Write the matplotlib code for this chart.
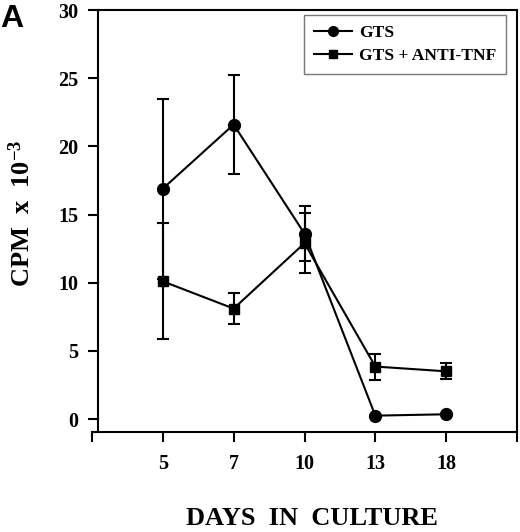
import numpy as np
import matplotlib
matplotlib.use("Agg")
import matplotlib.pyplot as plt
from matplotlib.lines import Line2D

# values
days = ['5', '7', '10', '13', '18']
gts = [16.9, 21.6, 13.6, 0.25, 0.35]
gts_err = [6.6, 3.6, 2.0, 0.0, 0.0]
anti_tnf = [10.1, 8.1, 12.9, 3.85, 3.5]
anti_tnf_err = [4.25, 1.15, 2.2, 0.95, 0.58]

plt.rcParams['font.family'] = ['Liberation Serif', 'DejaVu Serif']
plt.rcParams['font.weight'] = 'bold'
plt.rcParams['mathtext.fontset'] = 'custom'
plt.rcParams['mathtext.rm'] = 'Liberation Serif:bold'
plt.rcParams['mathtext.default'] = 'rm'

fig = plt.figure(figsize=(5.2, 5.32), dpi=100)
ax = fig.add_axes([92 / 520, 1 - 432 / 532, 425 / 520, 422 / 532])

x = np.arange(1, len(days) + 1)

ax.errorbar(x, gts, yerr=gts_err, color='black', marker='o', markersize=8.5,
            linewidth=1.5, elinewidth=1.5, capsize=4.5, capthick=1.5, zorder=3)
ax.errorbar(x, anti_tnf, yerr=anti_tnf_err, color='black', marker='s', markersize=7,
            linewidth=1.5, elinewidth=1.5, capsize=4.5, capthick=1.5, zorder=3)

ax.set_xlim(0, 6)
ax.set_ylim(-0.95, 30)

ax.set_xticks(np.arange(0, 7))
ax.set_xticklabels([''] + days + [''])
ax.set_yticks(np.arange(0, 31, 5))

ax.tick_params(axis='x', direction='out', length=7, width=1.5, pad=9, labelsize=14.5)
ax.tick_params(axis='y', direction='out', length=7, width=1.5, pad=7, labelsize=14.5)

for side in ['left', 'right', 'top', 'bottom']:
    ax.spines[side].set_linewidth(1.5)
ax.spines['left'].set_position(('data', 0.08))
ax.spines['top'].set_bounds(0.08, 6)

ax.set_ylabel('CPM  x  10$^{-3}$', fontsize=19, fontweight='bold')
ax.yaxis.set_label_coords(-0.135, 0.517)
ax.set_xlabel('DAYS  IN  CULTURE', fontsize=19, fontweight='bold')
ax.xaxis.set_label_coords(0.5165, -0.178)

# legend shows line + marker only, no error bars
handles = [
    Line2D([], [], color='black', marker='o', markersize=7, linewidth=1.5),
    Line2D([], [], color='black', marker='s', markersize=6, linewidth=1.5),
]
leg = ax.legend(handles, ['GTS', 'GTS + ANTI-TNF'],
                loc='upper right', bbox_to_anchor=(0.974, 0.988), borderaxespad=0,
                fontsize=12.6, frameon=True, fancybox=False, framealpha=1,
                handlelength=2.2, handletextpad=0.4, labelspacing=0.4,
                borderpad=0.55)
leg.get_frame().set_edgecolor('#777777')
leg.get_frame().set_linewidth(1.0)

fig.text(0.0, 1 - 27 / 532, 'A', fontsize=23, fontweight='bold',
         family='Liberation Sans', ha='left', va='baseline')

fig.savefig('out.png', dpi=100)
